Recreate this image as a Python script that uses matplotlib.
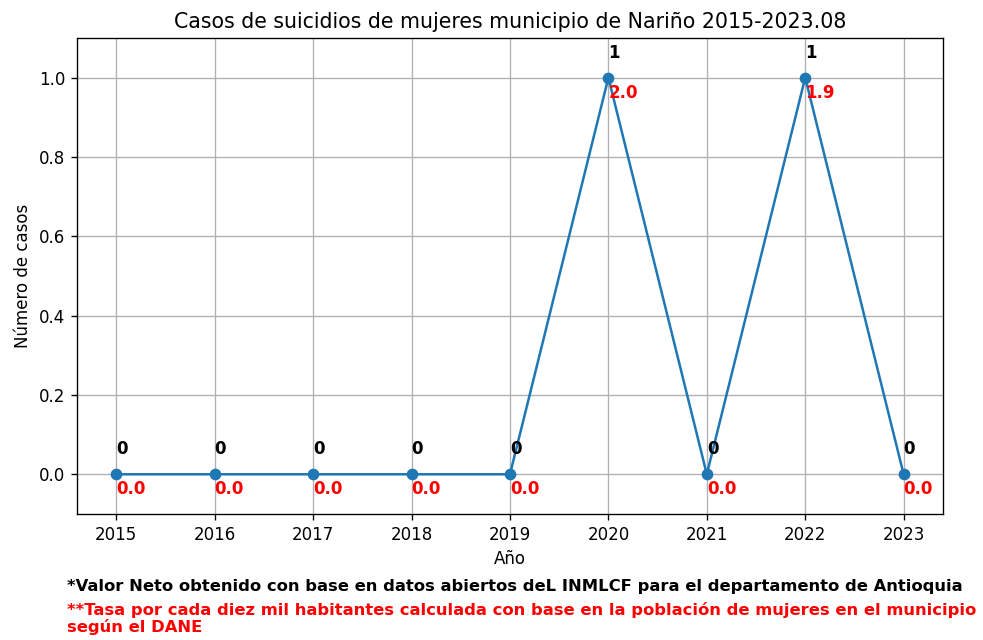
import matplotlib
matplotlib.use('Agg')
import matplotlib.pyplot as plt

# suicide cases of women per year and rate per 10,000 inhabitants
years = [2015, 2016, 2017, 2018, 2019, 2020, 2021, 2022, 2023]
cases = [0, 0, 0, 0, 0, 1, 0, 1, 0]
rates = [0.0, 0.0, 0.0, 0.0, 0.0, 2.0, 0.0, 1.9, 0.0]


def main():
    fig = plt.figure(figsize=(983 / 120, 640 / 120), dpi=120)
    ax = fig.add_axes([0.0783, 0.197, 0.881, 0.7436])

    ax.plot(years, cases, marker='o')
    for x, c, r in zip(years, cases, rates):
        ax.text(x, c + 0.05, str(c), fontweight='bold', fontsize=10)
        ax.text(x, c - 0.05, '%.1f' % r, fontweight='bold', fontsize=10, color='red')

    ax.set_ylim(-0.1, 1.1)
    ax.set_xticks(years)
    ax.set_title('Casos de suicidios de mujeres municipio de Nariño 2015-2023.08', fontsize=12.3)
    ax.set_xlabel('Año')
    ax.set_ylabel('Número de casos')
    ax.grid(True)

    fig.text(0.068, 0.084, '*Valor Neto obtenido con base en datos abiertos deL INMLCF '
             'para el departamento de Antioquia',
             fontsize=9.8, fontweight='bold', va='center')
    fig.text(0.068, 0.060, '**Tasa por cada diez mil habitantes calculada con base en la '
             'población de mujeres en el municipio\nsegún el DANE',
             fontsize=9.8, fontweight='bold', color='red', va='top', linespacing=1.1)

    fig.savefig('out.png', dpi=120)
    plt.close(fig)


if __name__ == '__main__':
    main()
